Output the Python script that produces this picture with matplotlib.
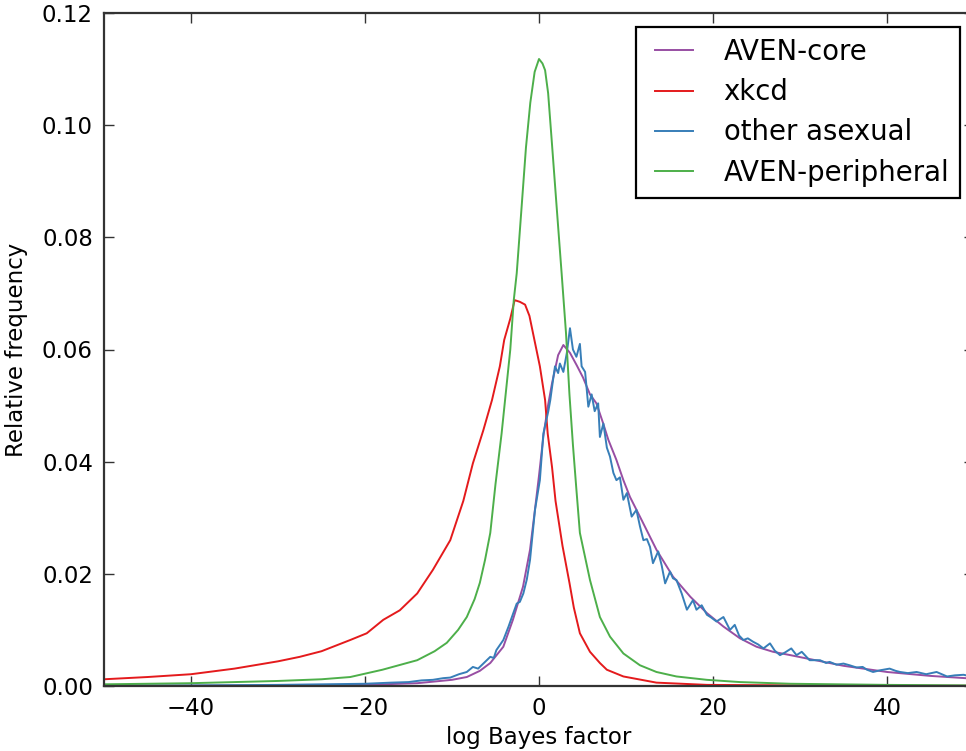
import matplotlib
matplotlib.use('Agg')
import matplotlib.pyplot as plt

# values
core_x = [-50, -30, -20, -14, -10, -8.3, -6.8, -5.6, -4.1, -3.0, -1.84, -1.03, -0.5, 0.0, 0.5,
          1.0, 1.5, 2.2, 2.8, 3.56, 4.33, 5.06, 5.86, 6.6, 7.36, 7.97, 8.9, 9.7, 10.46, 11.6,
          13.5, 15.4, 17.4, 19.3, 21.2, 23.1, 25.0, 26.9, 28.9, 30.8, 35, 40, 45, 50]
core_y = [0.0, 0.0001, 0.0002, 0.0005, 0.0011, 0.0016, 0.0027, 0.0041, 0.007, 0.0118, 0.0177,
          0.0243, 0.031, 0.0375, 0.0445, 0.0497, 0.054, 0.059, 0.0608, 0.0594, 0.0572, 0.055,
          0.052, 0.0504, 0.0469, 0.0439, 0.0403, 0.0367, 0.0337, 0.0302, 0.0243, 0.0195, 0.0159,
          0.013, 0.0106, 0.0085, 0.007, 0.0061, 0.0055, 0.0049, 0.0036, 0.0025, 0.0018, 0.0013]

xkcd_x = [-50, -45, -40, -35, -30, -27.5, -25, -21.7, -19.8, -17.9, -16, -14, -12.2, -10.2,
          -8.7, -7.6, -6.4, -5.4, -4.5, -4.0, -3.3, -2.8, -2.2, -1.6, -1.1, -0.7, 0.1, 0.7, 1.0,
          1.5, 1.9, 2.7, 3.5, 4.0, 4.7, 5.86, 7.0, 7.8, 9.7, 13.5, 19.3, 30, 40, 50]
xkcd_y = [0.0012, 0.0016, 0.0021, 0.0031, 0.0044, 0.0052, 0.0062, 0.0082, 0.0094, 0.0118,
          0.0135, 0.0165, 0.0207, 0.026, 0.033, 0.0397, 0.0456, 0.051, 0.057, 0.0617, 0.0655,
          0.0688, 0.0685, 0.068, 0.066, 0.063, 0.057, 0.051, 0.045, 0.039, 0.033, 0.025, 0.0184,
          0.014, 0.0094, 0.0061, 0.0041, 0.0029, 0.0017, 0.0006, 0.0002, 0.0001, 0.00005, 0.00003]

other_x = [-50, -40, -30, -25, -20, -17, -15, -13.5, -12.2, -11, -10.2, -9.2, -8.3, -7.6, -7.0,
           -6.4, -5.6, -5.2, -4.9, -4.1, -3.5, -3.0, -2.56, -2.2, -1.8, -1.4, -1.03, -0.46, 0.1,
           0.5, 1.07, 1.3, 1.65, 1.84, 2.2, 2.4, 2.8, 3.2, 3.56, 3.9, 4.3, 4.7, 4.9, 5.3, 5.67,
           6.05, 6.4, 6.8, 7.0, 7.4, 7.8, 8.16, 8.55, 8.9, 9.3, 9.7, 10.1, 10.65, 11.2, 11.6,
           12.0, 12.4, 12.76, 13.1, 13.7, 14.1, 14.5, 15.06, 15.4, 15.8, 16.4, 17.0, 17.7, 18.1,
           18.7, 19.3, 19.8, 20.4, 21.2, 21.95, 22.5, 23.0, 23.5, 24.0, 24.6, 25.2, 25.8, 26.55,
           27.1, 27.7, 28.3, 29.0, 29.6, 30.2, 31.1, 32.3, 33.0, 33.4, 34.2, 35.0, 35.7, 36.5,
           37.2, 37.7, 38.4, 39.2, 40.3, 41.0, 41.5, 42.4, 43.4, 44.5, 45.7, 46.9, 47.8, 48.8, 50]
other_y = [0.0001, 0.0001, 0.0002, 0.0003, 0.0004, 0.0006, 0.0007, 0.0010, 0.0011, 0.0014,
           0.0015, 0.0021, 0.0025, 0.0034, 0.0031, 0.0040, 0.0052, 0.0050, 0.0064, 0.0082,
           0.0106, 0.0128, 0.0147, 0.0150, 0.0165, 0.0190, 0.0225, 0.0314, 0.0367, 0.045,
           0.049, 0.051, 0.055, 0.057, 0.0558, 0.0575, 0.056, 0.0594, 0.0638, 0.060, 0.0587,
           0.061, 0.057, 0.056, 0.0498, 0.052, 0.049, 0.0504, 0.0444, 0.0468, 0.0425, 0.0409,
           0.038, 0.0367, 0.0372, 0.0332, 0.0344, 0.0302, 0.0314, 0.0285, 0.026, 0.0262,
           0.0248, 0.0219, 0.024, 0.0215, 0.0183, 0.0204, 0.0192, 0.0189, 0.0165, 0.0136,
           0.0153, 0.0136, 0.0144, 0.0127, 0.0122, 0.0115, 0.0123, 0.0100, 0.0109, 0.0090,
           0.0082, 0.0085, 0.0079, 0.0074, 0.0067, 0.0076, 0.0063, 0.0055, 0.0060, 0.0067,
           0.0055, 0.0061, 0.0046, 0.0046, 0.0041, 0.0043, 0.0038, 0.0040, 0.0037, 0.0033,
           0.0034, 0.0029, 0.0025, 0.0028, 0.0031, 0.0027, 0.0025, 0.0023, 0.0025, 0.0021,
           0.0025, 0.0017, 0.0019, 0.0020, 0.0016]

periph_x = [-50, -40, -30, -25, -21.7, -18, -14, -12, -10.6, -9.3, -8.3, -7.4, -6.8, -6.2,
            -5.6, -5.0, -4.3, -3.9, -3.3, -2.9, -2.56, -2.0, -1.5, -1.0, -0.5, 0.0, 0.4, 0.7,
            1.05, 1.46, 2.03, 2.6, 3.1, 3.5, 3.9, 4.3, 4.7, 5.86, 7.0, 8.16, 9.7, 11.6, 13.5,
            15.8, 19.3, 23.1, 28.9, 40, 50]
periph_y = [0.0003, 0.0005, 0.0009, 0.0012, 0.0016, 0.0029, 0.0046, 0.0062, 0.0077, 0.010,
            0.0123, 0.0155, 0.0184, 0.0225, 0.0273, 0.036, 0.045, 0.051, 0.060, 0.0688,
            0.0736, 0.0854, 0.096, 0.104, 0.1095, 0.1118, 0.111, 0.1098, 0.1057, 0.0973,
            0.0854, 0.0736, 0.063, 0.052, 0.043, 0.035, 0.0273, 0.0189, 0.0123, 0.0088,
            0.0058, 0.0037, 0.0025, 0.0017, 0.0011, 0.0007, 0.0004, 0.0002, 0.0001]

x_ticks = [-40, -20, 0, 20, 40]
y_ticks = [0.00, 0.02, 0.04, 0.06, 0.08, 0.10, 0.12]

fig = plt.figure(figsize=(9.66, 7.51), dpi=100)
# right spine sits just past the picture edge, as in the reference
ax = fig.add_axes([104 / 966, 1 - 686 / 751, 870 / 966, 673 / 751])

lw = 1.4
ax.plot(core_x, core_y, color='#984ea3', lw=lw, label='AVEN-core')
ax.plot(xkcd_x, xkcd_y, color='#e41a1c', lw=lw, label='xkcd')
ax.plot(other_x, other_y, color='#377eb8', lw=lw, label='other asexual')
ax.plot(periph_x, periph_y, color='#4daf4a', lw=lw, label='AVEN-peripheral')

ax.set_xlim(-50, 50)
ax.set_ylim(0, 0.12)
ax.set_xticks(x_ticks)
ax.set_xticklabels(['\u2212%d' % -t if t < 0 else '%d' % t for t in x_ticks])
ax.set_yticks(y_ticks)
ax.set_yticklabels(['%.2f' % t for t in y_ticks])
ax.tick_params(direction='in', length=7, width=1, top=True, right=True,
               labelsize=16.5, pad=8, color='#333333')
for s in ax.spines.values():
    s.set_linewidth(1.6)
    s.set_color('#333333')

ax.set_xlabel('log Bayes factor', fontsize=16.5, labelpad=4)
ax.set_ylabel('Relative frequency', fontsize=16.5, labelpad=10)

# classic-style legend: large font, two-point handles
leg = ax.legend(loc='upper right', fontsize=19.8, numpoints=2, handlelength=2,
                handletextpad=0.8, borderpad=0.4, labelspacing=0.45, borderaxespad=0.5,
                fancybox=False, framealpha=1)
leg.get_frame().set_edgecolor('black')
leg.get_frame().set_linewidth(1.6)

fig.savefig('out.png', dpi=100)
